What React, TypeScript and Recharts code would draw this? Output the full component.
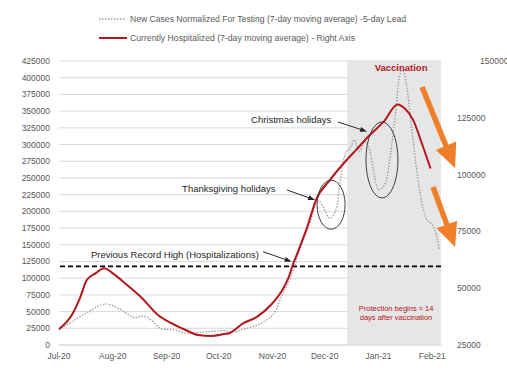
import React from 'react';
import {
  ComposedChart, Line, XAxis, YAxis, CartesianGrid, Legend,
  ReferenceArea, ReferenceLine, ReferenceDot
} from 'recharts';

// x values are days since 1 Jul 2020
const monthTicks = [0, 31, 62, 92, 123, 153, 184, 215];
const monthLabels = ['Jul-20', 'Aug-20', 'Sep-20', 'Oct-20', 'Nov-20', 'Dec-20', 'Jan-21', 'Feb-21'];

const leftTicks = [0, 25000, 50000, 75000, 100000, 125000, 150000, 175000, 200000, 225000,
  250000, 275000, 300000, 325000, 350000, 375000, 400000, 425000];
const rightTicks = [25000, 50000, 75000, 100000, 125000, 150000];

// new cases normalized for testing (left axis)
const caseDays = [0, 9, 17, 27, 36, 44, 48, 53, 59, 67, 74, 82, 90, 95, 100, 108, 118, 125, 128,
  132, 135, 138, 145, 149, 152, 156, 160, 162, 165, 168, 170, 173, 176, 179, 181, 184, 188, 191,
  194, 196, 198, 200, 203, 206, 209, 212, 215, 218, 219];
const caseValues = [22500, 37400, 49800, 61400, 52400, 40900, 43400, 37400, 24000, 22500, 17500,
  19000, 21000, 21400, 19900, 25000, 34900, 52400, 72300, 92300, 112200, 137200, 187000, 217000,
  207000, 189600, 207000, 246900, 286900, 295800, 306800, 289300, 304200, 291800, 261900, 232000,
  242000, 286900, 351700, 401500, 411500, 391600, 326700, 261900, 212000, 187000, 179600, 157100,
  142200];

// currently hospitalized (right axis)
const hospDays = [0, 8, 12, 16, 21, 26, 31, 38, 48, 57, 65, 73, 80, 88, 95, 98, 106, 114, 122,
  128, 132, 135, 138, 143, 148, 156, 164, 171, 179, 187, 195, 199, 204, 209, 214];
const hospValues = [32000, 39000, 45500, 53600, 56500, 58800, 56500, 52200, 45500, 38200, 34500,
  31600, 29400, 29000, 29800, 30200, 34500, 37400, 42600, 48400, 54300, 61000, 66800, 77000, 88800,
  97600, 105000, 110800, 117400, 123300, 130900, 129200, 124000, 113700, 102700];

const recordHigh = 59600;
const vaccinationStart = 166;
const lastDay = 220;

const cases = caseDays.map((day, i) => ({ day, cases: caseValues[i] }));
const hosp = hospDays.map((day, i) => ({ day, hosp: hospValues[i] }));

const FONT = '"Liberation Sans", Arial, sans-serif';
const GRAY = '#595959';
const RED = '#b3161d';
const ORANGE = '#f07f2a';

const arrow = (color: string, width: number, headLen: number, headW: number) => (p: any) => {
  const x1 = Number(p.x1), y1 = Number(p.y1), x2 = Number(p.x2), y2 = Number(p.y2);
  const len = Math.hypot(x2 - x1, y2 - y1) || 1;
  const ux = (x2 - x1) / len, uy = (y2 - y1) / len;
  const bx = x2 - ux * headLen, by = y2 - uy * headLen;
  const pts = `${x2},${y2} ${bx - uy * headW / 2},${by + ux * headW / 2} ${bx + uy * headW / 2},${by - ux * headW / 2}`;
  return (
    <g>
      <line x1={x1} y1={y1} x2={bx + ux} y2={by + uy} stroke={color} strokeWidth={width} />
      <polygon points={pts} fill={color} />
    </g>
  );
};

const note = (text: string, opts: any = {}) => (p: any) => (
  <text x={p.cx} y={p.cy} dominantBaseline="central" fontFamily={FONT}
    fontSize={opts.size || 9.5} fill={opts.color || '#262626'} fontWeight={opts.bold ? 700 : 400}
    textAnchor={opts.anchor || 'start'}>{text}</text>
);

const ring = (rx: number, ry: number) => (p: any) => (
  <ellipse cx={p.cx} cy={p.cy} rx={rx} ry={ry} fill="none" stroke="#3f3f3f" strokeWidth={1} />
);

// the top label of the right axis sits further right in the original
const RightTick = (p: any) => (
  <text x={p.x + (p.payload.value === 150000 ? 23 : 0)} y={p.y} dy="0.355em" textAnchor="start"
    fontFamily={FONT} fontSize={8.5} fill={GRAY}>{p.payload.value}</text>
);

const renderLegend = () => (
  <svg width={507} height={48} style={{ display: 'block' }}>
    <line x1={99} y1={19} x2={126} y2={19} stroke="#9a9a9a" strokeWidth={1.3} strokeDasharray="1.5 1.5" />
    <text x={130} y={19} dominantBaseline="central" fontFamily={FONT} fontSize={8.3} fill={GRAY}
      textLength={276} lengthAdjust="spacingAndGlyphs">
      New Cases Normalized For Testing (7-day moving average) -5-day Lead
    </text>
    <line x1={99} y1={38} x2={127} y2={38} stroke={RED} strokeWidth={2} />
    <text x={130} y={38} dominantBaseline="central" fontFamily={FONT} fontSize={8.3} fill={GRAY}
      textLength={225} lengthAdjust="spacingAndGlyphs">
      Currently Hospitalized (7-day moving average) - Right Axis
    </text>
  </svg>
);

export default function App() {
  const tick = { fontSize: 8.5, fill: GRAY, fontFamily: FONT };
  return (
    <div style={{ position: 'absolute', left: 0, top: 0, width: 507, height: 375, background: '#fff' }}>
      <ComposedChart width={507} height={375} margin={{ top: 61, right: 0, bottom: 0, left: 0 }}>
        <ReferenceArea yAxisId="left" x1={vaccinationStart} x2={lastDay} y1={0} y2={425000}
          fill="#e6e6e6" fillOpacity={1} stroke="none" />
        <CartesianGrid yAxisId="left" vertical={false} stroke="#d9d9d9" />
        <XAxis type="number" dataKey="day" domain={[0, lastDay]} ticks={monthTicks}
          tickFormatter={(v) => monthLabels[monthTicks.indexOf(v)] ?? ''} height={30}
          tick={tick} tickLine={false} tickSize={0} tickMargin={8} stroke="#d9d9d9" interval={0} />
        <YAxis yAxisId="left" domain={[0, 425000]} ticks={leftTicks} width={59} tick={tick}
          axisLine={false} tickLine={false} tickSize={0} tickMargin={9} interval={0} />
        <YAxis yAxisId="right" orientation="right" domain={[25000, 150000]} ticks={rightTicks}
          width={66} tick={RightTick} axisLine={false} tickLine={false}
          tickSize={0} tickMargin={16} interval={0} />
        <Legend verticalAlign="middle" align="center" layout="horizontal"
          wrapperStyle={{ top: 0, left: 0, width: 507, height: 48 }} content={renderLegend} />

        <ReferenceLine yAxisId="right" y={recordHigh} stroke="#000" strokeWidth={1.6} strokeDasharray="5 3" />

        <Line data={cases} dataKey="cases" name="New Cases Normalized For Testing (7-day moving average) -5-day Lead"
          yAxisId="left" type="monotone" stroke="#9a9a9a" strokeWidth={1.3} strokeDasharray="1.5 1.5"
          dot={false} isAnimationActive={false} />
        <Line data={hosp} dataKey="hosp" name="Currently Hospitalized (7-day moving average) - Right Axis"
          yAxisId="right" type="monotone" stroke={RED} strokeWidth={2} dot={false} isAnimationActive={false} />

        <ReferenceDot yAxisId="left" x={156.7} y={210000} r={0} shape={ring(14, 24.5)} />
        <ReferenceDot yAxisId="left" x={186} y={276900} r={0} shape={ring(16, 38)} />

        <ReferenceLine yAxisId="left" ifOverflow="visible" segment={[{ x: 160.7, y: 333700 }, { x: 177.4, y: 319500 }]}
          shape={arrow('#262626', 1, 7, 5)} />
        <ReferenceLine yAxisId="left" ifOverflow="visible" segment={[{ x: 131.3, y: 232000 }, { x: 147.5, y: 217000 }]}
          shape={arrow('#262626', 1, 7, 5)} />
        <ReferenceLine yAxisId="left" ifOverflow="visible" segment={[{ x: 117.5, y: 139600 }, { x: 134, y: 124700 }]}
          shape={arrow('#262626', 1, 7, 5)} />
        <ReferenceLine yAxisId="left" ifOverflow="visible" segment={[{ x: 209.1, y: 386100 }, { x: 228.1, y: 264900 }]}
          shape={arrow(ORANGE, 5.5, 24, 22)} />
        <ReferenceLine yAxisId="left" ifOverflow="visible" segment={[{ x: 215.4, y: 236400 }, { x: 228.1, y: 146700 }]}
          shape={arrow(ORANGE, 5.5, 24, 22)} />

        <ReferenceDot yAxisId="left" x={197} y={416000} r={0} shape={note('Vaccination', { color: RED, bold: true, anchor: 'middle', size: 9.5 })} />
        <ReferenceDot yAxisId="left" x={110.6} y={338200} r={0} shape={note('Christmas holidays')} />
        <ReferenceDot yAxisId="left" x={70.9} y={234500} r={0} shape={note('Thanksgiving holidays')} />
        <ReferenceDot yAxisId="left" x={18.4} y={134700} r={0} shape={note('Previous Record High (Hospitalizations)')} />
        <ReferenceDot yAxisId="left" x={194.1} y={54900} r={0} shape={note('Protection begins ≈ 14', { color: RED, anchor: 'middle', size: 7.5 })} />
        <ReferenceDot yAxisId="left" x={194.1} y={40900} r={0} shape={note('days after vaccination', { color: RED, anchor: 'middle', size: 7.5 })} />
      </ComposedChart>
    </div>
  );
}
